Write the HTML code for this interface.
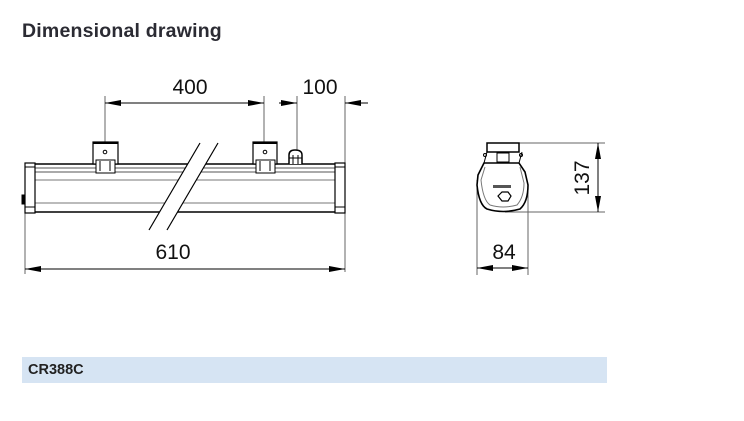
<!DOCTYPE html>
<html><head><style>
body{margin:0;background:#fff;width:744px;height:421px;overflow:hidden;position:relative;font-family:"Liberation Sans",sans-serif}
.t{position:absolute;left:22px;top:20px;font-size:19.5px;font-weight:bold;color:#2b2b33;letter-spacing:0.2px}
.bar{position:absolute;left:22px;top:357px;width:585px;height:26px;background:#d6e4f3}
.bar span{position:absolute;left:6px;top:5px;font-size:14.5px;font-weight:bold;color:#222}
svg{position:absolute;left:0;top:0}
</style></head><body>
<div class="t">Dimensional drawing</div>
<div class="bar"><span>CR388C</span></div>
<svg width="744" height="421" viewBox="0 0 744 421">
<defs><marker id="a" viewBox="0 0 16 6" refX="16" refY="3" markerWidth="16" markerHeight="6" orient="auto-start-reverse" markerUnits="userSpaceOnUse"><path d="M0,0L16,3L0,6z" fill="#000"/></marker></defs>
<g stroke="#000" stroke-width="1" fill="none">
<line x1="105" y1="96" x2="105" y2="142" stroke="#666"/>
<line x1="264" y1="96" x2="264" y2="142" stroke="#666"/>
<line x1="297" y1="96" x2="297" y2="150" stroke="#666"/>
<line x1="345" y1="96" x2="345" y2="272" stroke="#666"/>
<line x1="25" y1="213" x2="25" y2="274" stroke="#666"/>
<line x1="105" y1="103" x2="264" y2="103" marker-start="url(#a)" marker-end="url(#a)"/>
<line x1="279" y1="103" x2="297" y2="103" marker-end="url(#a)"/>
<line x1="368" y1="103" x2="345" y2="103" marker-end="url(#a)"/>
<line x1="25" y1="269" x2="345" y2="269" marker-start="url(#a)" marker-end="url(#a)"/>
<rect x="33" y="164" width="304" height="48" stroke-width="1.5"/>
<line x1="33" y1="168" x2="337" y2="168" stroke="#555"/>
<line x1="33" y1="172" x2="337" y2="172" stroke="#555"/>
<line x1="33" y1="180" x2="337" y2="180" stroke="#777"/>
<line x1="33" y1="203" x2="337" y2="203" stroke="#777"/>
<rect x="25" y="163" width="10" height="50" fill="#fff" stroke-width="1.2"/>
<rect x="335" y="163" width="10" height="50" fill="#fff" stroke-width="1.2"/>
<line x1="25" y1="167" x2="35" y2="167"/><line x1="25" y1="207" x2="35" y2="207"/>
<line x1="335" y1="167" x2="345" y2="167"/><line x1="335" y1="207" x2="345" y2="207"/>
<rect x="22" y="195" width="3" height="9" fill="#000"/>
<rect x="93" y="142" width="25" height="22" fill="#fff" stroke-width="1.2"/>
<rect x="96" y="160" width="19" height="13" fill="#fff"/>
<line x1="93" y1="143" x2="118" y2="143" stroke-width="2"/>
<circle cx="105" cy="152" r="1.8"/>
<line x1="100" y1="161" x2="100" y2="171"/><line x1="110" y1="161" x2="110" y2="171"/>
<rect x="253" y="142" width="24" height="22" fill="#fff" stroke-width="1.2"/>
<rect x="256" y="160" width="19" height="13" fill="#fff"/>
<line x1="253" y1="143" x2="277" y2="143" stroke-width="2"/>
<circle cx="265" cy="152" r="1.8"/>
<line x1="260" y1="161" x2="260" y2="171"/><line x1="270" y1="161" x2="270" y2="171"/>
<path d="M289,164V155Q289,150 295,150Q302,150 302,155V164" fill="#fff" stroke-width="1.5"/>
<line x1="289" y1="158" x2="302" y2="158"/>
<line x1="293" y1="155" x2="293" y2="164"/><line x1="298" y1="155" x2="298" y2="164"/>
</g>
<polygon points="200,143 218,143 167,230 149,230" fill="#fff"/>
<g stroke="#000" stroke-width="1.2">
<line x1="200" y1="143" x2="149" y2="230"/><line x1="218" y1="143" x2="167" y2="230"/>
</g>
<g stroke="#000" stroke-width="1" fill="none">
<line x1="519" y1="143" x2="605" y2="143" stroke="#666"/>
<line x1="505" y1="212" x2="605" y2="212" stroke="#666"/>
<line x1="598" y1="143" x2="598" y2="212" marker-start="url(#a)" marker-end="url(#a)"/>
<line x1="477" y1="180" x2="477" y2="275" stroke="#666"/>
<line x1="528" y1="185" x2="528" y2="275" stroke="#666"/>
<line x1="477" y1="268" x2="528" y2="268" marker-start="url(#a)" marker-end="url(#a)"/>
<rect x="487" y="143" width="32" height="9" stroke-width="1.5" fill="#fff"/>
<path d="M487,152L484,163L519,163L522,152" />
<rect x="497" y="153" width="12" height="9"/>
<circle cx="485" cy="155" r="1.5"/><circle cx="521" cy="155" r="1.5"/>
<path d="M484,163L478,175L477,185Q479,205 487,209Q503,214 520,209Q528,202 528,185L525,172L519,163Z" stroke-width="1.6" fill="#fff"/>
<path d="M485,167L481,180Q483,200 490,205Q503,209 517,205Q524,197 524,183L520,167" stroke="#777"/>
<polygon points="498,196 502,192 508,192 511,196 508,201 502,201" stroke-width="1.2"/>
<rect x="493" y="185" width="18" height="3" fill="#555" stroke="none"/>
</g>
<g font-family="Liberation Sans, sans-serif" font-size="21" fill="#111" text-anchor="middle">
<text x="190" y="94">400</text>
<text x="320" y="94">100</text>
<text x="173" y="259">610</text>
<text x="504" y="259">84</text>
<text transform="translate(589,178) rotate(-90)">137</text>
</g>
</svg>
</body></html>
